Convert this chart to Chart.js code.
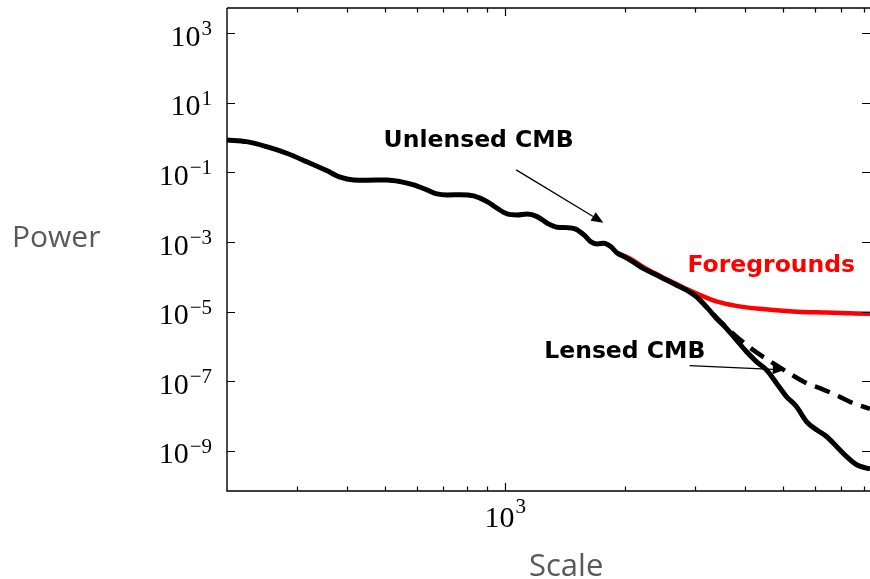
<!DOCTYPE html>
<html>
<head>
<meta charset="utf-8">
<script src="https://cdn.jsdelivr.net/npm/chart.js@4.4.1/dist/chart.umd.min.js"></script>
<style>
  html, body { margin: 0; padding: 0; background: #fff; }
  #wrap { width: 870px; height: 579px; }
</style>
</head>
<body>
<div id="wrap"><canvas id="myChart" width="870" height="579"></canvas></div>
<script>
// 黒の実線（Unlensed CMB）
const scaleSolid = [200, 224, 251.5, 282.5, 317, 356, 385, 416, 449, 505, 545, 589, 636, 674, 714, 772, 834, 901, 954, 1012,
  1072, 1136, 1204, 1276, 1352, 1433, 1500, 1578, 1640, 1705, 1773, 1842, 1915, 1990, 2093, 2217, 2350, 2490, 2692, 2851,
  3022, 3203, 3394, 3597, 3812, 4039, 4280, 4537, 4808, 5093, 5397, 5719, 6062, 6424, 6807, 7213, 7643, 8100, 8260];
const powerSolid = [0.859, 0.767, 0.551, 0.356, 0.204, 0.113, 0.0728, 0.0608, 0.0597, 0.0608, 0.0544, 0.0437, 0.0314, 0.0241,
  0.0225, 0.0230, 0.0211, 0.0145, 0.00935, 0.00642, 0.00601, 0.00642, 0.00537, 0.00347, 0.00266, 0.00259, 0.00238, 0.0016,
  0.001026, 0.000881, 0.000924, 0.000738, 0.000477, 0.00038, 0.000273, 0.000177, 0.000127, 9.12e-5, 5.85e-5, 4.2e-5,
  2.7e-5, 1.39e-5, 6.46e-6, 3.33e-6, 1.54e-6, 7.1e-7, 3.66e-7, 2.11e-7, 8.77e-8, 3.61e-8, 1.86e-8, 6.9e-9, 3.99e-9,
  2.56e-9, 1.32e-9, 6.8e-10, 3.94e-10, 3.16e-10, 3.0e-10];

// 赤（Foregrounds）
const scaleFg = [1915, 2093, 2217, 2350, 2490, 2692, 2851, 3082, 3394, 3812, 4365, 5292, 6424, 8260];
const powerFg = [4.9e-4, 3.0e-4, 1.95e-4, 1.36e-4, 9.6e-5, 6.25e-5, 4.49e-5, 3.02e-5, 1.96e-5, 1.46e-5, 1.2e-5, 1.01e-5, 9.36e-6, 8.6e-6];

// 黒の破線（Lensed CMB）
const scaleLensed = [3022, 3394, 3700, 4198, 4713, 5093, 5719, 6180, 6934, 7497, 8260];
const powerLensed = [2.7e-5, 6.8e-6, 2.6e-6, 7.9e-7, 3.29e-7, 1.89e-7, 8.77e-8, 6.3e-8, 3.54e-8, 2.33e-8, 1.6e-8];

// 目盛り
const yTickExps = [3, 1, -1, -3, -5, -7, -9];
const xMajorExps = [3];
const xMinorTicks = [300, 400, 500, 600, 700, 800, 900, 2000, 3000, 4000, 5000, 6000, 7000, 8000];

// 注釈（データ座標）
const notes = [
  { text: "Unlensed CMB", x: 495, y: 0.53, color: "#000" },
  { text: "Foregrounds", x: 2873, y: 1.41e-4, color: "#ff0000" },
  { text: "Lensed CMB", x: 1254, y: 4.58e-7, color: "#000" },
];
const arrows = [
  { from: [1066, 0.118], to: [1766, 0.0036] },
  { from: [2908, 2.8e-7], to: [5044, 2.11e-7] },
];

function toPoints(xs, ys) {
  return xs.map((x, i) => ({ x: x, y: ys[i] }));
}

const sup = (e) => (e < 0 ? "\u2212" + Math.abs(e) : String(e));

const decorPlugin = {
  id: "decor",
  afterDatasetsDraw(chart) {
    const ctx = chart.ctx;
    const a = chart.chartArea;
    const xs = chart.scales.x;
    const ys = chart.scales.y;
    ctx.save();

    // 枠線
    ctx.strokeStyle = "#000";
    ctx.lineWidth = 1.4;
    ctx.beginPath();
    ctx.moveTo(a.left, a.top);
    ctx.lineTo(a.left, a.bottom);
    ctx.lineTo(a.right, a.bottom);
    ctx.moveTo(a.left, a.top);
    ctx.lineTo(a.right, a.top);
    ctx.stroke();

    // 内向きの目盛り
    ctx.lineWidth = 1.2;
    ctx.beginPath();
    yTickExps.forEach((e) => {
      const py = Math.round(ys.getPixelForValue(Math.pow(10, e))) + 0.5;
      ctx.moveTo(a.left, py); ctx.lineTo(a.left + 8, py);
      ctx.moveTo(a.right, py); ctx.lineTo(a.right - 8, py);
    });
    xMajorExps.forEach((e) => {
      const px = Math.round(xs.getPixelForValue(Math.pow(10, e))) + 0.5;
      ctx.moveTo(px, a.bottom); ctx.lineTo(px, a.bottom - 8);
      ctx.moveTo(px, a.top); ctx.lineTo(px, a.top + 8);
    });
    xMinorTicks.forEach((v) => {
      const px = Math.round(xs.getPixelForValue(v)) + 0.5;
      ctx.moveTo(px, a.bottom); ctx.lineTo(px, a.bottom - 4.5);
      ctx.moveTo(px, a.top); ctx.lineTo(px, a.top + 4.5);
    });
    ctx.stroke();

    // 目盛りラベル
    const baseFont = "30px 'Liberation Serif', serif";
    const supFont = "21px 'Liberation Serif', serif";
    ctx.fillStyle = "#000";
    ctx.textBaseline = "alphabetic";
    yTickExps.forEach((e) => {
      const py = ys.getPixelForValue(Math.pow(10, e));
      const right = a.left - 15;
      ctx.font = supFont;
      const ws = ctx.measureText(sup(e)).width;
      ctx.textAlign = "right";
      ctx.fillText(sup(e), right, py + 2);
      ctx.font = baseFont;
      ctx.fillText("10", right - ws - 1, py + 12.5);
    });
    xMajorExps.forEach((e) => {
      const px = xs.getPixelForValue(Math.pow(10, e));
      ctx.font = baseFont;
      const wb = ctx.measureText("10").width;
      ctx.font = supFont;
      const ws = ctx.measureText(sup(e)).width;
      const left = px - (wb + ws + 1) / 2;
      ctx.textAlign = "left";
      ctx.font = baseFont;
      ctx.fillText("10", left, a.bottom + 35.5);
      ctx.font = supFont;
      ctx.fillText(sup(e), left + wb + 1, a.bottom + 22);
    });

    // 軸タイトル
    ctx.fillStyle = "#595959";
    ctx.font = "30px 'Open Sans', sans-serif";
    ctx.textAlign = "left";
    ctx.fillText("Power", 12, 247);
    ctx.font = "31px 'Open Sans', sans-serif";
    ctx.fillText("Scale", 529, 576);

    // 矢印
    ctx.strokeStyle = "#000";
    ctx.fillStyle = "#000";
    ctx.lineWidth = 1.3;
    arrows.forEach((ar) => {
      const x0 = xs.getPixelForValue(ar.from[0]);
      const y0 = ys.getPixelForValue(ar.from[1]);
      const x1 = xs.getPixelForValue(ar.to[0]);
      const y1 = ys.getPixelForValue(ar.to[1]);
      const ang = Math.atan2(y1 - y0, x1 - x0);
      const hl = 12, hw = 5;
      const bx = x1 - hl * Math.cos(ang);
      const by = y1 - hl * Math.sin(ang);
      ctx.beginPath();
      ctx.moveTo(x0, y0);
      ctx.lineTo(bx, by);
      ctx.stroke();
      ctx.beginPath();
      ctx.moveTo(x1, y1);
      ctx.lineTo(bx + hw * Math.sin(ang), by - hw * Math.cos(ang));
      ctx.lineTo(bx - hw * Math.sin(ang), by + hw * Math.cos(ang));
      ctx.closePath();
      ctx.fill();
    });

    // 注釈テキスト
    ctx.font = "bold 23.5px 'DejaVu Sans', sans-serif";
    ctx.textAlign = "left";
    notes.forEach((n) => {
      ctx.fillStyle = n.color;
      ctx.fillText(n.text, xs.getPixelForValue(n.x), ys.getPixelForValue(n.y));
    });

    ctx.restore();
  },
};

const ctx = document.getElementById("myChart").getContext("2d");
const myChart = new Chart(ctx, {
  type: "line",
  data: {
    datasets: [
      {
        label: "Unlensed CMB",
        data: toPoints(scaleSolid, powerSolid),
        borderColor: "#000",
        borderWidth: 5,
        cubicInterpolationMode: "monotone",
        pointRadius: 0,
      },
      {
        label: "Lensed CMB",
        data: toPoints(scaleLensed, powerLensed),
        borderColor: "#000",
        borderWidth: 4.5,
        borderDash: [16, 9],
        cubicInterpolationMode: "monotone",
        pointRadius: 0,
      },
      {
        label: "Foregrounds",
        data: toPoints(scaleFg, powerFg),
        borderColor: "#ff0000",
        borderWidth: 4.5,
        cubicInterpolationMode: "monotone",
        pointRadius: 0,
      },
    ],
  },
  options: {
    responsive: false,
    animation: false,
    devicePixelRatio: 1,
    layout: { padding: { left: 227, top: 8, right: 0, bottom: 88 } },
    plugins: { legend: { display: false }, tooltip: { enabled: false } },
    scales: {
      x: { type: "logarithmic", min: 200, max: 8260, display: false },
      y: { type: "logarithmic", min: 6.95e-11, max: 5333, display: false },
    },
  },
  plugins: [decorPlugin],
});
</script>
</body>
</html>
